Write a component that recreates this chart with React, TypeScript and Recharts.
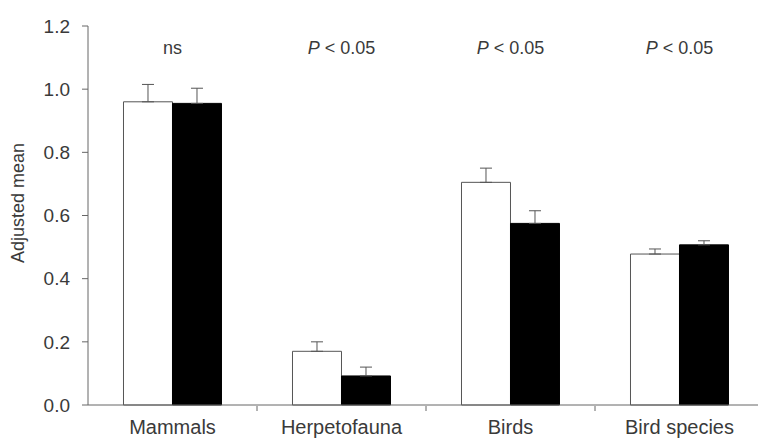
import { BarChart, Bar, XAxis, YAxis, ErrorBar } from "recharts";

const categories = ["Mammals", "Herpetofauna", "Birds", "Bird species"];
const openMeans = [0.96, 0.17, 0.705, 0.478];
const openErrors = [0.055, 0.03, 0.045, 0.016];
const filledMeans = [0.955, 0.092, 0.575, 0.507];
const filledErrors = [0.048, 0.028, 0.04, 0.013];
const annotations = ["ns", "P < 0.05", "P < 0.05", "P < 0.05"];
const yTicks = [0, 0.2, 0.4, 0.6, 0.8, 1.0, 1.2];
const boundaryTicks = [1, 2, 3, 4];

const data = categories.map((name, i) => ({
    name,
    slot: i + 0.5,
    open: openMeans[i],
    openErr: [0, openErrors[i]],
    filled: filledMeans[i],
    filledErr: [0, filledErrors[i]],
    note: annotations[i],
}));

const FONT = "'Liberation Sans', Arial, sans-serif";
const TEXT = "#3a3a3a";
const AXIS = "#666";

const NoteTick = (props: any) => {
    const { x, y, payload } = props;
    const idx = categories.indexOf(payload?.value);
    const note = annotations[idx] ?? "";
    const isP = note.startsWith("P");
    return (
        <text x={x} y={y + 28} textAnchor="middle" fontFamily={FONT} fontSize={18} fill={TEXT}>
            {isP ? (
                <>
                    <tspan fontStyle="italic">P</tspan>
                    <tspan>{note.slice(1)}</tspan>
                </>
            ) : (
                note
            )}
        </text>
    );
};

const YLabel = () => (
    <text
        x={0}
        y={0}
        transform="translate(24 203) rotate(-90)"
        textAnchor="middle"
        fontFamily={FONT}
        fontSize={18}
        fill={TEXT}
    >
        Adjusted mean
    </text>
);

export default function App() {
    return (
        <div
            style={{
                position: "absolute",
                left: 0,
                top: 0,
                width: 758,
                height: 442,
                overflow: "hidden",
                background: "#fff",
            }}
        >
            <BarChart
                width={770}
                height={442}
                data={data}
                margin={{ top: 25, right: 6, bottom: 0, left: 0 }}
                barGap={0}
                barCategoryGap="21%"
            >
                <XAxis
                    xAxisId="notes"
                    orientation="top"
                    dataKey="name"
                    height={1}
                    axisLine={false}
                    tickLine={false}
                    tickSize={0}
                    tickMargin={0}
                    tick={<NoteTick />}
                    interval={0}
                />
                <XAxis
                    xAxisId="bounds"
                    type="number"
                    scale="linear"
                    dataKey="slot"
                    domain={[0, 4]}
                    allowDataOverflow
                    ticks={boundaryTicks}
                    height={36}
                    axisLine={false}
                    tickLine={{ stroke: AXIS }}
                    tickSize={5}
                    tickFormatter={() => ""}
                    interval={0}
                />
                <XAxis
                    dataKey="name"
                    height={1}
                    axisLine={{ stroke: AXIS }}
                    tickLine={false}
                    tickSize={0}
                    tickMargin={15}
                    interval={0}
                    tick={{ fontSize: 20, fill: TEXT, fontFamily: FONT }}
                />
                <YAxis
                    width={88}
                    domain={[0, 1.2]}
                    ticks={yTicks}
                    tickFormatter={(v: number) => v.toFixed(1)}
                    axisLine={{ stroke: AXIS }}
                    tickLine={{ stroke: AXIS }}
                    tickSize={6}
                    tickMargin={12}
                    tick={{ fontSize: 19, fill: TEXT, fontFamily: FONT }}
                    label={<YLabel />}
                />
                <Bar dataKey="open" fill="#fff" stroke="#555" strokeWidth={1} isAnimationActive={false}>
                    <ErrorBar dataKey="openErr" width={6} stroke="#555" strokeWidth={1} direction="y" />
                </Bar>
                <Bar dataKey="filled" fill="#000" stroke="#000" isAnimationActive={false}>
                    <ErrorBar dataKey="filledErr" width={6} stroke="#555" strokeWidth={1} direction="y" />
                </Bar>
            </BarChart>
        </div>
    );
}
